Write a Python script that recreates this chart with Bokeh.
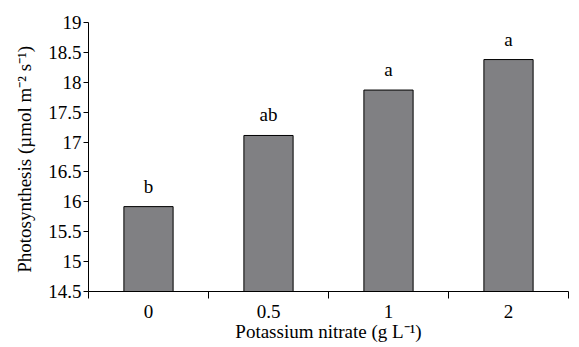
from bokeh.plotting import figure
from bokeh.models import ColumnDataSource, FixedTicker, Range1d
from bokeh.core.properties import value
from bokeh.embed import file_html
from bokeh.resources import INLINE

categories = ["0", "0.5", "1", "2"]
photosynthesis = [15.92, 17.11, 17.87, 18.38]
letters = ["b", "ab", "a", "a"]
y_ticks = [14.5, 15, 15.5, 16, 16.5, 17, 17.5, 18, 18.5, 19]

FONT = "Liberation Serif"

xs = [i + 0.5 for i in range(len(categories))]
src = ColumnDataSource(dict(x=xs, top=photosynthesis, lab=letters))

p = figure(frame_width=480, frame_height=269, output_backend="svg", toolbar_location=None,
           x_range=Range1d(0, len(categories)), y_range=Range1d(14.5, 19),
           min_border_left=88, min_border_right=3, min_border_top=22, min_border_bottom=0)
p.outline_line_color = None
p.grid.visible = False
p.background_fill_color = "white"
p.border_fill_color = "white"

p.vbar(x="x", top="top", bottom=14.5, width=0.41, source=src,
       fill_color="#808083", line_color="black", line_width=1)
p.text(x="x", y="top", text="lab", source=src, text_align="center",
       text_baseline="bottom", y_offset=-10, text_font=value(FONT),
       text_font_size="19px", text_color="black")

xa = p.xaxis[0]
xa.ticker = FixedTicker(ticks=xs, minor_ticks=list(range(len(categories) + 1)))
xa.major_label_overrides = {x: c for x, c in zip(xs, categories)}
xa.major_tick_out = 0
xa.major_tick_in = 0
xa.minor_tick_out = 7
xa.minor_tick_in = 0
xa.major_label_standoff = 6
xa.axis_label = "Potassium nitrate (g L\u207b\u00b9)"
xa.axis_label_standoff = 0

ya = p.yaxis[0]
ya.ticker = FixedTicker(ticks=y_ticks, minor_ticks=[])
ya.major_label_overrides = {14.5: "14.5", 15: "15", 15.5: "15.5", 16: "16", 16.5: "16.5",
                            17: "17", 17.5: "17.5", 18: "18", 18.5: "18.5", 19: "19"}
ya.major_tick_out = 5
ya.major_tick_in = 0
ya.minor_tick_out = 0
ya.minor_tick_in = 0
ya.major_label_standoff = 2
ya.axis_label = "Photosynthesis  (\u00b5mol m\u207b\u00b2 s\u207b\u00b9)"
ya.axis_label_standoff = 10

for ax in (xa, ya):
    ax.axis_line_color = "black"
    ax.axis_line_width = 1
    ax.major_tick_line_color = "black"
    ax.minor_tick_line_color = "black"
    ax.major_label_text_font = FONT
    ax.major_label_text_font_size = "19px"
    ax.major_label_text_color = "black"
    ax.axis_label_text_font = FONT
    ax.axis_label_text_font_size = "19px"
    ax.axis_label_text_font_style = "normal"
    ax.axis_label_text_color = "black"

open("out.html", "w").write(file_html(p, INLINE))
